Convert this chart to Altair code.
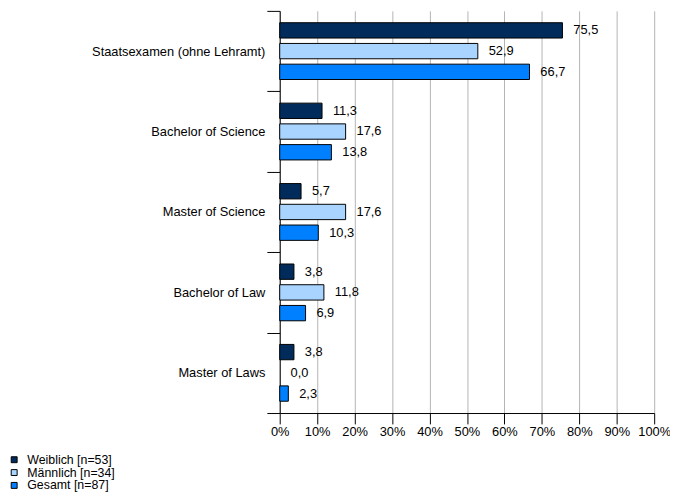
import altair as alt
import pandas as pd

categories = ["Staatsexamen (ohne Lehramt)", "Bachelor of Science", "Master of Science",
              "Bachelor of Law", "Master of Laws"]
series = ["Weiblich [n=53]", "Männlich [n=34]", "Gesamt [n=87]"]
weiblich = [75.5, 11.3, 5.7, 3.8, 3.8]
maennlich = [52.9, 17.6, 17.6, 11.8, 0.0]
gesamt = [66.7, 13.8, 10.3, 6.9, 2.3]
colors = ["#002B5A", "#A9D4FF", "#0080FF"]
x_ticks = list(range(0, 101, 10))

rows = []
for s, vals in zip(series, [weiblich, maennlich, gesamt]):
    for c, v in zip(categories, vals):
        rows.append({"Abschluss": c, "Gruppe": s, "Wert": v,
                     "label": f"{v:.1f}".replace(".", ",")})
df = pd.DataFrame(rows)

FONT = "Liberation Sans"

y_enc = alt.Y("Abschluss:N",
              scale=alt.Scale(domain=categories, paddingInner=0, paddingOuter=0),
              axis=alt.Axis(title=None, tickBand="extent", tickSize=13, tickColor="black",
                            domainColor="black", labelPadding=2, labelFontSize=13,
                            labelColor="black", labelLimit=300, grid=False, labelFont=FONT))
yoff_enc = alt.YOffset("Gruppe:N",
                       scale=alt.Scale(domain=series, paddingInner=0.26, paddingOuter=0.57))
x_enc = alt.X("Wert:Q", scale=alt.Scale(domain=[0, 100], nice=False),
              axis=alt.Axis(title=None, values=x_ticks, labelExpr="datum.value + '%'",
                            labelOverlap=False, labelFlush=False, tickSize=11,
                            tickColor="black", domainColor="black", gridColor="#b3b3b3",
                            gridWidth=1, labelFontSize=13, labelColor="black",
                            labelPadding=2, labelFont=FONT))

bars = alt.Chart(df).mark_bar(stroke="black", strokeWidth=1).encode(
    x=x_enc,
    y=y_enc,
    yOffset=yoff_enc,
    strokeOpacity=alt.condition("datum.Wert > 0", alt.value(1), alt.value(0)),
    color=alt.Color("Gruppe:N", scale=alt.Scale(domain=series, range=colors),
                    legend=alt.Legend(title=None, orient="none", legendX=-275, legendY=448,
                                      symbolType="square", symbolSize=36, symbolOffset=0,
                                      symbolStrokeColor="black", symbolStrokeWidth=1,
                                      labelFontSize=12.5, labelFont=FONT, labelColor="black",
                                      labelOffset=7, rowPadding=0, padding=0)),
)

labels = alt.Chart(df).mark_text(align="left", baseline="middle", dx=11, fontSize=13,
                                  font=FONT, color="black").encode(
    x=x_enc,
    y=y_enc,
    yOffset=yoff_enc,
    text="label:N",
)

chart = alt.layer(bars, labels).properties(
    width=379, height=407,
    autosize=alt.AutoSizeParams(type="none"),
    padding={"left": 275, "top": 0, "right": 16, "bottom": 78},
).configure_view(stroke=None)

chart.save("out.html", embed_options={"renderer": "svg", "actions": False})
